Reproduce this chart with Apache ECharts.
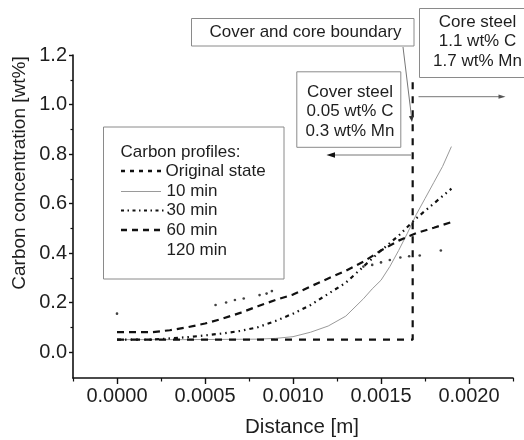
<!DOCTYPE html>
<html>
<head>
<meta charset="utf-8">
<script src="https://cdn.jsdelivr.net/npm/echarts@6/dist/echarts.min.js"></script>
<style>
html,body{margin:0;padding:0;background:#fff;}
#chart{width:524px;height:440px;}
</style>
</head>
<body>
<div id="chart"></div>
<script>
// ---- data ----
const xOriginal = [0, 0.00168, 0.00168, 0.0017];
const yOriginal = [0.05, 0.05, 1.1, 1.1];

const x10 = [0, 0.0004, 0.0008, 0.0009, 0.001, 0.0011, 0.0012, 0.0013, 0.0014, 0.00145, 0.0015, 0.00155, 0.0016, 0.00165, 0.0017, 0.00175, 0.0018, 0.00185, 0.0019];
const y10 = [0.05, 0.05, 0.052, 0.055, 0.062, 0.08, 0.105, 0.145, 0.215, 0.255, 0.29, 0.345, 0.41, 0.48, 0.555, 0.62, 0.685, 0.75, 0.83];

const x30 = [0, 0.0002, 0.0003, 0.0004, 0.0005, 0.0006, 0.0007, 0.0008, 0.0009, 0.001, 0.0011, 0.0012, 0.0013, 0.0014, 0.0015, 0.0016, 0.0017, 0.0018, 0.0019];
const y30 = [0.05, 0.05, 0.055, 0.06, 0.067, 0.075, 0.085, 0.1, 0.125, 0.155, 0.19, 0.235, 0.28, 0.345, 0.41, 0.47, 0.54, 0.6, 0.66];

const x60 = [0, 0.0002, 0.0003, 0.0004, 0.0005, 0.0006, 0.0007, 0.0008, 0.0009, 0.001, 0.0011, 0.0012, 0.0013, 0.0014, 0.0015, 0.0016, 0.0017, 0.0018, 0.0019];
const y60 = [0.08, 0.08, 0.088, 0.1, 0.115, 0.135, 0.158, 0.185, 0.21, 0.232, 0.265, 0.297, 0.328, 0.365, 0.41, 0.45, 0.48, 0.502, 0.525];

const x120 = [0, 0.00056, 0.00062, 0.00067, 0.00072, 0.00081, 0.00085, 0.00088, 0.0014, 0.00145, 0.0015, 0.00155, 0.00161, 0.00166, 0.00172, 0.00184];
const y120 = [0.155, 0.19, 0.2, 0.21, 0.216, 0.23, 0.236, 0.246, 0.345, 0.352, 0.362, 0.372, 0.382, 0.387, 0.39, 0.41];

const xMajorTicks = [0, 0.0005, 0.001, 0.0015, 0.002];
const xMinorTicks = [-0.00025, 0.00025, 0.00075, 0.00125, 0.00175, 0.00225];
const yMajorTicks = [0, 0.2, 0.4, 0.6, 0.8, 1.0, 1.2];
const yMinorTicks = [0.1, 0.3, 0.5, 0.7, 0.9, 1.1];

const legendTitle = 'Carbon profiles:';
const seriesNames = ['Original state', '10 min', '30 min', '60 min', '120 min'];
const xTitle = 'Distance [m]';
const yTitle = 'Carbon concentration [wt%]';
const boundaryText = 'Cover and core boundary';
const coreLines = ['Core steel', '1.1 wt% C', '1.7 wt% Mn'];
const coverLines = ['Cover steel', '0.05 wt% C', '0.3 wt% Mn'];

// ---- build ----
const zip = (xs, ys) => xs.map((x, i) => [x, ys[i]]);
const FONT = '"Liberation Sans", Arial, sans-serif';
const TXT = '#1e1e1e';
const BOX = '#8a8a8a';

const chart = echarts.init(document.getElementById('chart'), null, {renderer: 'canvas'});

function txt(text, x, y, size, extra) {
  return Object.assign({
    type: 'text', x: x, y: y, z: 20,
    style: {text: text, font: size + 'px ' + FONT, fill: TXT,
      align: 'center', verticalAlign: 'middle', textAlign: 'center', textVerticalAlign: 'middle'}
  }, extra || {});
}
function ltxt(text, x, y, size) {
  return {type: 'text', x: x, y: y, z: 20,
    style: {text: text, font: size + 'px ' + FONT, fill: TXT,
      align: 'left', verticalAlign: 'middle', textAlign: 'left', textVerticalAlign: 'middle'}};
}
function box(x1, y1, x2, y2) {
  return {type: 'rect', z: 15, shape: {x: x1, y: y1, width: x2 - x1, height: y2 - y1},
    style: {fill: '#fff', stroke: BOX, lineWidth: 1}};
}
function seg(x1, y1, x2, y2, color, width, dash) {
  return {type: 'line', z: 18, shape: {x1: x1, y1: y1, x2: x2, y2: y2},
    style: {stroke: color, lineWidth: width, lineDash: dash || null}};
}
function tri(points, color) {
  return {type: 'polygon', z: 19, shape: {points: points}, style: {fill: color}};
}

const axisLineStyle = {color: '#111', width: 1.6};

const option = {
  backgroundColor: '#fff',
  animation: false,
  grid: {left: 73, right: 11, top: 55, bottom: 62, containLabel: false},
  xAxis: [{
    type: 'value', min: -0.00025, max: 0.00225, position: 'bottom',
    axisLine: {show: true, onZero: false, lineStyle: axisLineStyle},
    axisTick: {show: true, inside: false, length: 6, lineStyle: {color: '#111', width: 1.4}, customValues: xMajorTicks},
    axisLabel: {show: true, customValues: xMajorTicks, margin: 8, fontSize: 20, fontFamily: FONT, color: TXT,
      formatter: v => Number(v).toFixed(4)},
    splitLine: {show: false}
  }, {
    type: 'value', min: -0.00025, max: 0.00225, position: 'bottom', offset: 0,
    axisLine: {show: false, onZero: false},
    axisTick: {show: true, inside: false, length: 3.5, lineStyle: {color: '#111', width: 1.2}, customValues: xMinorTicks},
    axisLabel: {show: false},
    splitLine: {show: false}
  }],
  yAxis: [{
    type: 'value', min: -0.105, max: 1.2, position: 'left',
    axisLine: {show: true, onZero: false, lineStyle: axisLineStyle},
    axisTick: {show: true, inside: false, length: 4, lineStyle: {color: '#111', width: 1.4}, customValues: yMajorTicks},
    axisLabel: {show: true, customValues: yMajorTicks, margin: 6, fontSize: 20, fontFamily: FONT, color: TXT,
      formatter: v => Number(v).toFixed(1)},
    splitLine: {show: false}
  }, {
    type: 'value', min: -0.105, max: 1.2, position: 'left', offset: 0,
    axisLine: {show: false, onZero: false},
    axisTick: {show: true, inside: false, length: 2.5, lineStyle: {color: '#111', width: 1.2}, customValues: yMinorTicks},
    axisLabel: {show: false},
    splitLine: {show: false}
  }],
  series: [
    {name: seriesNames[0], type: 'line', data: zip(xOriginal, yOriginal), symbol: 'none', z: 5,
      lineStyle: {color: '#111', width: 2.2, type: [7, 7]}},
    {name: seriesNames[1], type: 'line', data: zip(x10, y10), symbol: 'none', z: 4,
      lineStyle: {color: '#9a9a9a', width: 1}},
    {name: seriesNames[2], type: 'line', data: zip(x30, y30), symbol: 'none', z: 6,
      lineStyle: {color: '#111', width: 2.2, type: [4, 4, 1.5, 4, 1.5, 4]}},
    {name: seriesNames[3], type: 'line', data: zip(x60, y60), symbol: 'none', z: 6,
      lineStyle: {color: '#111', width: 2.2, type: [7, 5]}},
    {name: seriesNames[4], type: 'scatter', data: zip(x120, y120), symbol: 'circle', symbolSize: 2.6, z: 6,
      itemStyle: {color: '#111'}}
  ],
  graphic: [
    // axis titles
    txt(xTitle, 302, 427, 20.5),
    txt(yTitle, 20, 173, 19, {rotation: Math.PI / 2}),
    // legend
    box(103.5, 127, 284, 279),
    ltxt(legendTitle, 120.5, 152.5, 17),
    seg(121, 171, 164, 171, '#111', 2.5, [4, 5]),
    ltxt(seriesNames[0], 165.5, 171, 17),
    seg(121, 191.5, 161, 191.5, '#9a9a9a', 1),
    ltxt(seriesNames[1], 166.5, 191.5, 17),
    seg(121, 210.5, 164, 210.5, '#111', 2.2, [3, 3.5, 1.5, 3.5]),
    ltxt(seriesNames[2], 166.5, 210.5, 17),
    seg(121, 230, 164, 230, '#111', 2.5, [6, 5]),
    ltxt(seriesNames[3], 166.5, 230, 17),
    ltxt(seriesNames[4], 166.5, 250, 17),
    // boundary annotation
    box(191.5, 18.5, 414, 46),
    txt(boundaryText, 305.5, 32.5, 17),
    seg(403, 47, 411.5, 117, '#777', 1),
    tri([[412, 122], [413.8, 115.6], [408.9, 116.2]], '#333'),
    // core steel
    box(419.5, 8.5, 530, 77.5),
    txt(coreLines[0], 477.5, 22, 17),
    txt(coreLines[1], 477.5, 41.7, 17),
    txt(coreLines[2], 477.5, 61.5, 17),
    seg(418.5, 96.7, 500, 96.7, '#777', 1),
    tri([[505.5, 96.7], [498.5, 94.6], [498.5, 98.8]], '#555'),
    // cover steel
    box(296.8, 71.8, 400.8, 147.3),
    txt(coverLines[0], 350, 92.3, 17),
    txt(coverLines[1], 350, 111.8, 17),
    txt(coverLines[2], 350, 131.7, 17),
    seg(411, 155, 332, 155, '#777', 1),
    tri([[326.5, 155], [335, 152.3], [335, 157.7]], '#111')
  ]
};
chart.setOption(option);
</script>
</body>
</html>
